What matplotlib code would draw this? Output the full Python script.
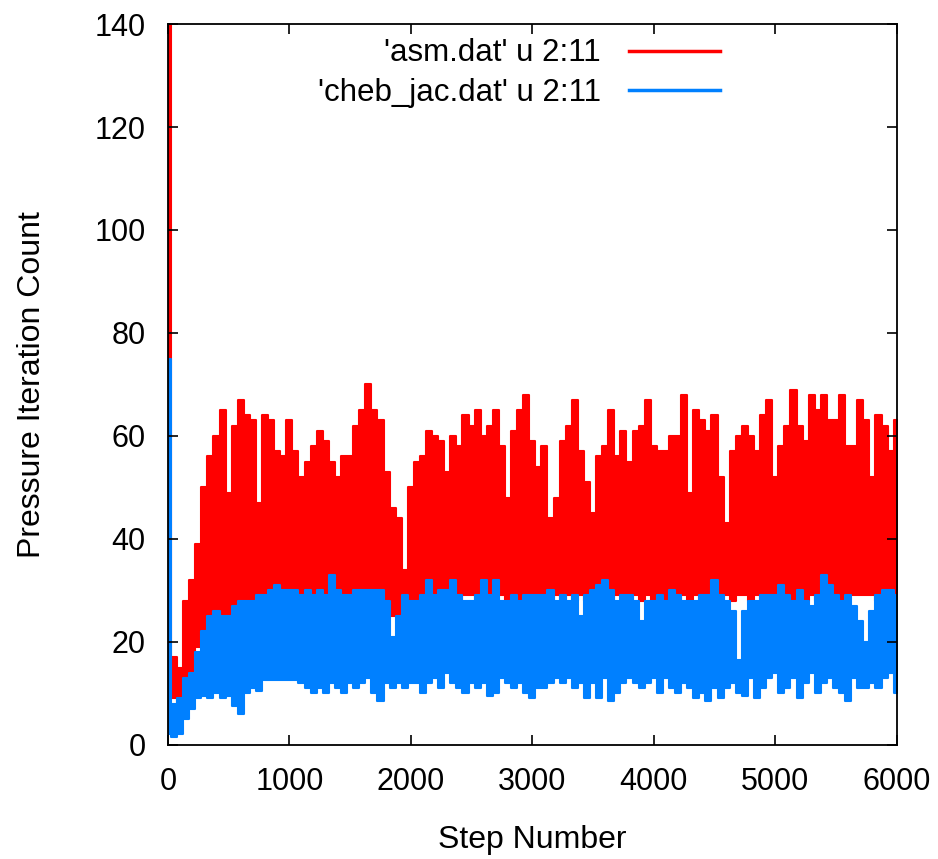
import numpy as np
import matplotlib
matplotlib.use('Agg')
import matplotlib.pyplot as plt

plt.rcParams['font.family'] = ['Liberation Sans', 'DejaVu Sans']

# sample positions (every 50 steps) and the envelope
steps = np.arange(0, 6001, 50)

asm_top = [140, 17, 15, 28, 32, 39, 50, 56, 60, 65,
           49, 62, 67, 64, 63, 47, 64, 63, 57, 56,
           63, 57, 52, 55, 58, 61, 59, 55, 52, 56,
           56, 62, 65, 70, 65, 63, 53, 46, 44, 34,
           50, 55, 56, 61, 60, 59, 53, 60, 58, 64,
           62, 65, 60, 62, 65, 58, 48, 61, 65, 68,
           59, 54, 58, 44, 48, 59, 62, 67, 57, 51,
           45, 56, 58, 65, 56, 61, 55, 61, 62, 67,
           58, 57, 57, 60, 60, 68, 49, 65, 63, 61,
           64, 52, 43, 57, 60, 62, 60, 57, 64, 67,
           52, 58, 62, 69, 62, 59, 68, 65, 68, 63,
           63, 68, 58, 58, 67, 63, 52, 64, 62, 57,
           63]
asm_bot = [9, 9, 7, 11, 14, 19, 22, 23, 23, 22,
           22, 24, 26, 27, 27, 27, 28, 27, 28, 27,
           28, 29, 28, 29, 28, 29, 27, 29, 28, 29,
           29, 28, 29, 28, 29, 28, 27, 25, 25, 25,
           26, 28, 29, 28, 29, 29, 28, 29, 27, 29,
           29, 28, 29, 28, 29, 29, 28, 29, 28, 29,
           29, 28, 29, 28, 29, 28, 29, 28, 29, 28,
           29, 28, 29, 27, 29, 29, 28, 29, 28, 29,
           28, 29, 28, 29, 28, 29, 28, 29, 28, 29,
           29, 28, 29, 28, 29, 29, 28, 29, 28, 29,
           29, 28, 29, 28, 29, 28, 29, 28, 29, 28,
           29, 28, 29, 29, 29, 29, 29, 28, 29, 28,
           29]
cheb_top = [75, 8, 9, 13, 14, 18, 22, 25, 26, 25,
            25, 27, 28, 28, 28, 29, 29, 30, 31, 30,
            30, 30, 29, 30, 29, 30, 29, 33, 30, 29,
            29, 30, 30, 30, 30, 30, 28, 21, 25, 29,
            28, 28, 29, 32, 29, 30, 30, 32, 29, 28,
            28, 29, 32, 29, 32, 28, 28, 29, 28, 29,
            29, 29, 29, 30, 28, 29, 28, 29, 25, 29,
            30, 31, 32, 30, 28, 29, 29, 28, 24, 28,
            28, 29, 28, 30, 29, 28, 28, 28, 29, 29,
            32, 29, 28, 26, 16.5, 26, 28, 28, 29, 29,
            29, 31, 29, 28, 30, 28, 27, 29, 33, 31,
            29, 28, 29, 27, 24, 20, 26, 29, 30, 30,
            29]
cheb_bot = [2, 1.5, 2, 5, 7, 9, 9.5, 9, 10, 9,
            9.5, 7.5, 6, 10, 11, 10.5, 12.5, 12.5, 12.5, 12.5,
            12.5, 12.5, 12, 11, 10, 11, 10, 12, 11, 10,
            12, 11, 12, 13, 10, 8.5, 12, 11, 12, 11,
            12, 12, 10, 12, 13, 11, 14, 12, 11, 10,
            12, 11, 12, 9.5, 10, 13, 12, 11, 12, 10,
            9, 11, 11, 12, 13, 12, 13, 11, 12, 9,
            12, 9, 13, 8.5, 10, 12, 13, 12, 11, 12,
            13, 10, 13, 11, 10, 12, 11, 9, 10, 8.5,
            11, 9, 11, 12, 10, 9.5, 13, 9, 11, 13,
            14, 10, 11, 13, 9, 12, 14, 10, 12, 13,
            11, 10, 8.5, 13, 11, 11, 12, 11, 13, 14,
            10]

red = '#ff0000'
blue = '#0080ff'

fig = plt.figure(figsize=(9.38, 8.59), dpi=100)
ax = fig.add_axes([0.179, 0.133, 0.777, 0.839])

# the data oscillate so fast that the line paints a solid band between
# its troughs and peaks
ax.fill_between(steps, asm_bot, asm_top, step='mid', color=red, lw=1.5)
ax.fill_between(steps, cheb_bot, cheb_top, step='mid', color=blue, lw=1.5)
ax.plot([], [], color=red, lw=2.5, label="'asm.dat' u 2:11")
ax.plot([], [], color=blue, lw=2.5, label="'cheb_jac.dat' u 2:11")

ax.set_xlim(0, 6000)
ax.set_ylim(0, 140)
ax.set_xticks(range(0, 6001, 1000))
ax.set_yticks(range(0, 141, 20))
ax.tick_params(direction='in', length=7, width=1.2, top=True, right=True,
               labelsize=22, pad=16)
for sp in ax.spines.values():
    sp.set_linewidth(1.3)

ax.set_xlabel('Step Number', fontsize=23, labelpad=20)
ax.set_ylabel('Pressure Iteration Count', fontsize=23, labelpad=34)

ax.legend(loc='upper right', bbox_to_anchor=(0.757, 0.98), frameon=False,
          markerfirst=False, fontsize=22.5, handlelength=2.9,
          labelspacing=0.3, handletextpad=0.9, borderpad=0, borderaxespad=0)

fig.savefig('out.png', dpi=100)
